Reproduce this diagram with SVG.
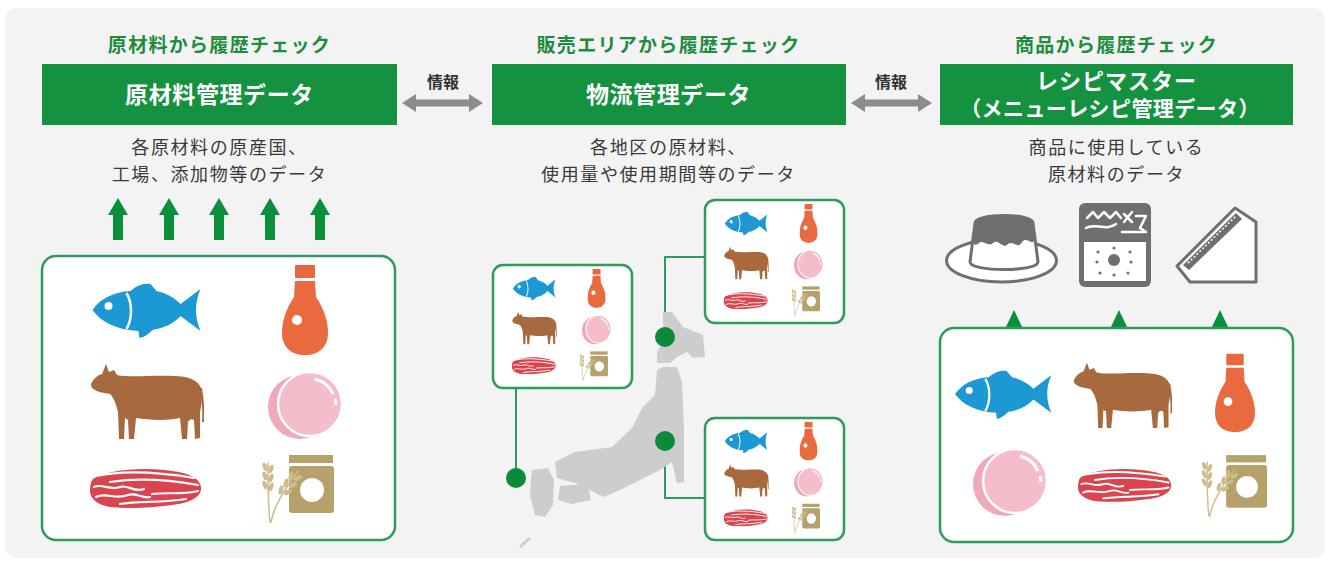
<svg xmlns="http://www.w3.org/2000/svg" xmlns:xlink="http://www.w3.org/1999/xlink" width="1330" height="563" viewBox="0 0 1330 563">
  <style>
    .hdr { font-family: 'Noto Sans CJK JP', 'Noto Sans CJK SC', sans-serif; font-size: 19px; font-weight: 700; fill: #1e8c3e; text-anchor: middle; letter-spacing: 1.3px; }
    .bar { fill: #14923f; }
    .bartxt { font-family: 'Noto Sans CJK JP', 'Noto Sans CJK SC', sans-serif; font-weight: 700; fill: #ffffff; text-anchor: middle; }
    .desc { font-family: 'Noto Sans CJK JP', 'Noto Sans CJK SC', sans-serif; font-size: 18px; fill: #3a3a3a; text-anchor: middle; letter-spacing: 1.6px; }
    .info { font-family: 'Noto Sans CJK JP', 'Noto Sans CJK SC', sans-serif; font-size: 16px; font-weight: 700; fill: #333333; text-anchor: middle; }
    .box { fill: #ffffff; stroke: #2f9a5e; stroke-width: 2.5; }
    .link { fill: none; stroke: #2f9a5e; stroke-width: 2; }
    .dot { fill: #0b8a3a; }
    .land { fill: #cdcdcd; }
    .garrow { fill: #0b8f3b; }
    .darrow { fill: #8c8c8c; }
    .prod { fill: #ffffff; stroke: #6f6f6f; stroke-width: 3; stroke-linejoin: round; }
    .prodfill { fill: #6f6f6f; }
  </style>
  <defs>
    <!-- ingredient icons -->
    <symbol id="fish" viewBox="0 0 110 55">
      <path fill="#1c98d5" d="M0,27 C8,15 22,9 38,8 C44,3 50,0 58,1 L64,8 C74,10 82,15 88,21 L108,6 C102,20 102,34 108,48 L88,33 C82,40 72,45 60,47 C56,51 52,54 47,55 L46,48 C26,47 9,40 0,27 Z"/>
      <path d="M34,10 C40,20 40,36 34,46" fill="none" stroke="#ffffff" stroke-width="2.5"/>
      <circle cx="16" cy="23" r="4" fill="#ffffff"/>
    </symbol>
    <symbol id="bottle" viewBox="0 0 46 90">
      <rect x="13" y="0" width="20" height="13" rx="1" fill="#e8673f"/>
      <path fill="#ea6a40" d="M13,16 L33,16 L34,32 C42,44 46,56 46,68 C46,82 37,90 23,90 C9,90 0,82 0,68 C0,56 4,44 12,32 Z"/>
      <circle cx="15" cy="55" r="5" fill="#ffffff"/>
    </symbol>
    <symbol id="cow" viewBox="0 0 114 82">
      <path fill="#a7693d" d="M2,22 C4,18 8,15 12,14 L16,4 L19,12 L24,10 L27,15 C40,18 62,15 84,16 C98,16 108,20 111,28 C113,34 112,44 110,52 L110,78 L105,79 L104,60 C101,58 99,60 98,62 L97,79 L92,79 L90,58 C76,61 58,60 46,58 L44,79 L39,79 L38,60 L35,58 L34,79 L29,79 L28,52 C26,44 24,38 20,34 C14,33 8,32 5,30 C1,28 0,25 2,22 Z"/>
      <path d="M111,28 C113,40 114,50 113,62" fill="none" stroke="#a7693d" stroke-width="2"/>
    </symbol>
    <symbol id="ham" viewBox="0 0 76 70">
      <circle cx="33" cy="37" r="32" fill="#f0a9bb"/>
      <circle cx="43" cy="34" r="32" fill="#f5bccb" stroke="#ffffff" stroke-width="2.5"/>
      <path d="M48,9 A26,26 0 0 1 66,24" fill="none" stroke="#ffffff" stroke-width="3"/>
      <path d="M68,29 A26,26 0 0 1 69,35" fill="none" stroke="#ffffff" stroke-width="3"/>
    </symbol>
    <symbol id="meat" viewBox="0 0 112 42">
      <path fill="#d9444e" d="M3,12 C15,4 45,0 75,3 C95,5 110,10 111,20 C112,30 100,36 82,38 C60,41 40,42 20,40 C8,38 0,32 0,24 C0,18 1,14 3,12 Z"/>
      <g fill="none" stroke="#ffffff" stroke-width="2.2" stroke-linecap="round">
        <path d="M6,9 C30,4 62,4 104,11"/>
        <path d="M20,15 C45,11 75,12 108,18"/>
        <path d="M4,20 C12,16 20,24 30,20 C38,17 44,26 54,22"/>
        <path d="M6,30 C16,25 26,33 38,28 C46,25 52,32 60,30"/>
        <path d="M62,27 C76,25 92,28 108,24"/>
        <path d="M30,37 C50,34 72,36 96,32"/>
      </g>
    </symbol>
    <symbol id="grain" viewBox="0 0 76 68">
      <rect x="31" y="0" width="44" height="8" fill="#b7a16a"/>
      <rect x="31" y="11" width="45" height="47" rx="3" fill="#b7a16a"/>
      <circle cx="54" cy="35" r="12" fill="#ffffff"/>
      <g fill="none" stroke="#cdbd8c" stroke-width="1.6" stroke-linecap="round">
        <path d="M12,67 C10,50 10,36 10,8"/>
        <path d="M13,67 C16,52 24,38 40,16"/>
      </g>
      <g fill="#cdbd8c">
        <ellipse cx="7" cy="12" rx="2.2" ry="4.5" transform="rotate(-20 7 12)"/>
        <ellipse cx="13" cy="14" rx="2.2" ry="4.5" transform="rotate(20 13 14)"/>
        <ellipse cx="7" cy="21" rx="2.2" ry="4.5" transform="rotate(-20 7 21)"/>
        <ellipse cx="13" cy="23" rx="2.2" ry="4.5" transform="rotate(20 13 23)"/>
        <ellipse cx="7" cy="30" rx="2.2" ry="4.5" transform="rotate(-20 7 30)"/>
        <ellipse cx="13" cy="32" rx="2.2" ry="4.5" transform="rotate(20 13 32)"/>
        <ellipse cx="33" cy="21" rx="2.2" ry="4.5" transform="rotate(15 33 21)"/>
        <ellipse cx="40" cy="23" rx="2.2" ry="4.5" transform="rotate(60 40 23)"/>
        <ellipse cx="28" cy="28" rx="2.2" ry="4.5" transform="rotate(15 28 28)"/>
        <ellipse cx="35" cy="30" rx="2.2" ry="4.5" transform="rotate(60 35 30)"/>
        <ellipse cx="23" cy="35" rx="2.2" ry="4.5" transform="rotate(15 23 35)"/>
        <ellipse cx="30" cy="37" rx="2.2" ry="4.5" transform="rotate(60 30 37)"/>
      </g>
    </symbol>
    <!-- six-ingredient panel content, laid out in the big left box frame -->
    <symbol id="set6" viewBox="42 256 353 284" preserveAspectRatio="none">
      <use href="#fish" x="92" y="283" width="111" height="55"/>
      <use href="#bottle" x="282" y="265" width="46" height="90"/>
      <use href="#cow" x="90" y="360" width="114" height="82"/>
      <use href="#ham" x="267" y="370" width="76" height="70"/>
      <use href="#meat" x="90" y="467" width="112" height="42"/>
      <use href="#grain" x="258" y="455" width="76" height="68"/>
    </symbol>
    <path id="uparrow" d="M0,198 L10,215 L5,215 L5,240 L-5,240 L-5,215 L-10,215 Z"/>
    <path id="biarrow" d="M0,103 L14,94 L14,99.5 L67,99.5 L67,94 L81,103 L67,112 L67,106.5 L14,106.5 L14,112 Z"/>
    <path id="tri" d="M0,310 L9,329 L-9,329 Z"/>
  </defs>

  <!-- backdrop -->
  <rect x="0" y="0" width="1330" height="563" fill="#ffffff"/>
  <rect x="5" y="8" width="1320" height="550" rx="12" fill="#f3f3f3"/>

  <!-- connectors -->
  <g id="connectors">
    <use href="#biarrow" x="402" class="darrow"/>
    <use href="#biarrow" x="851" class="darrow"/>
    <text class="info" x="443" y="88">情報</text>
    <text class="info" x="891" y="88">情報</text>
    <g class="garrow">
      <use href="#uparrow" x="118"/>
      <use href="#uparrow" x="169"/>
      <use href="#uparrow" x="219"/>
      <use href="#uparrow" x="270"/>
      <use href="#uparrow" x="320"/>
      <use href="#tri" x="1014"/>
      <use href="#tri" x="1119"/>
      <use href="#tri" x="1220"/>
    </g>
    <path class="link" d="M516,388 L516,478"/>
    <path class="link" d="M705,257 L665,257 L665,337"/>
    <path class="link" d="M665,441 L665,498 L705,498"/>
  </g>

  <!-- column 1: raw material data -->
  <g id="raw-material">
    <text class="hdr" x="219.5" y="52">原材料から履歴チェック</text>
    <rect class="bar" x="42" y="64" width="355" height="61"/>
    <text class="bartxt" x="219.5" y="103" font-size="23" letter-spacing="0.6">原材料管理データ</text>
    <text class="desc" x="219.5" y="154">各原材料の原産国、</text>
    <text class="desc" x="219.5" y="181">工場、添加物等のデータ</text>
    <rect class="box" x="42" y="256" width="353" height="284" rx="14"/>
    <use href="#set6" x="42" y="256" width="353" height="284"/>
  </g>

  <!-- column 2: distribution data -->
  <g id="distribution">
    <text class="hdr" x="668.5" y="52">販売エリアから履歴チェック</text>
    <rect class="bar" x="492" y="64" width="354" height="61"/>
    <text class="bartxt" x="668.5" y="103" font-size="23" letter-spacing="0.6">物流管理データ</text>
    <text class="desc" x="668.5" y="154">各地区の原材料、</text>
    <text class="desc" x="668.5" y="181">使用量や使用期間等のデータ</text>
  </g>

  <!-- map of Japan -->
  <g id="map">
    <polygon class="land" points="663,312 672,312 683,327 703,335 705,357 693,358 687,352 677,357 670,363 657,363 657,352 663,342"/>
    <polygon class="land" points="657,370 663,367 677,367 682,382 684,430 684,482 677,483 672,462 660,470 640,480 620,490 603,497 590,490 575,483 557,478 555,462 575,452 612,447 632,428 642,408 655,395"/>
    <polygon class="land" points="560,486 588,484 591,500 572,504 558,500"/>
    <polygon class="land" points="532,470 548,468 554,480 553,505 545,517 535,515 530,495 531,480"/>
    <path d="M520,547 L530,538" stroke="#cdcdcd" stroke-width="3"/>
  </g>

  <g id="area-west">
    <rect class="box" x="493" y="265" width="139" height="123" rx="10"/>
    <use href="#set6" x="493" y="265" width="139" height="123"/>
    <circle class="dot" cx="516" cy="478" r="10"/>
  </g>
  <g id="area-north">
    <rect class="box" x="705" y="200" width="139" height="123" rx="10"/>
    <use href="#set6" x="705" y="200" width="139" height="123"/>
    <circle class="dot" cx="665" cy="337" r="10"/>
  </g>
  <g id="area-east">
    <rect class="box" x="705" y="418" width="139" height="122" rx="10"/>
    <use href="#set6" x="705" y="418" width="139" height="122"/>
    <circle class="dot" cx="665" cy="441" r="10"/>
  </g>

  <!-- column 3: recipe master -->
  <g id="recipe-master">
    <text class="hdr" x="1116.5" y="52">商品から履歴チェック</text>
    <rect class="bar" x="940" y="64" width="353" height="61"/>
    <text class="bartxt" x="1116.5" y="89" font-size="22" letter-spacing="1">レシピマスター</text>
    <text class="bartxt" x="1110" y="116" font-size="21" letter-spacing="0.4">（メニューレシピ管理データ）</text>
    <text class="desc" x="1116.5" y="154">商品に使用している</text>
    <text class="desc" x="1116.5" y="181">原材料のデータ</text>
  </g>

  <!-- products -->
  <g id="pudding">
    <ellipse class="prod" cx="1001.5" cy="260.5" rx="55" ry="21.5"/>
    <path class="prod" d="M975,223 C975,213 1033,213 1033,223 L1038,262 C1038,272 970,272 970,262 Z"/>
    <path class="prodfill" d="M975,223 C975,213 1033,213 1033,223 L1035,240 C1031,246 1027,236 1022,242 C1018,250 1013,240 1008,244 C1003,250 998,238 993,243 C988,248 983,238 978,244 C975,246 973,244 972,240 Z"/>
  </g>
  <g id="bento">
    <rect class="prodfill" x="1079" y="203" width="72" height="84" rx="6"/>
    <rect x="1084" y="242" width="62" height="39" fill="#ffffff"/>
    <g fill="none" stroke="#ffffff" stroke-width="2.5" stroke-linecap="round" stroke-linejoin="round">
      <path d="M1087,218 L1093,212 L1098,218 L1104,212 L1110,218 L1116,212 L1121,218"/>
      <path d="M1086,228 C1095,222 1105,232 1116,224"/>
      <path d="M1124,214 L1132,222 M1132,212 L1124,222 M1136,216 L1146,216 L1140,228 L1146,232"/>
      <path d="M1122,232 L1144,232"/>
    </g>
    <circle class="prodfill" cx="1114" cy="260" r="6"/>
    <g class="prodfill">
      <circle cx="1098" cy="252" r="1.6"/>
      <circle cx="1114" cy="248" r="1.6"/>
      <circle cx="1130" cy="252" r="1.6"/>
      <circle cx="1097" cy="262" r="1.6"/>
      <circle cx="1131" cy="262" r="1.6"/>
      <circle cx="1100" cy="273" r="1.6"/>
      <circle cx="1114" cy="275" r="1.6"/>
      <circle cx="1128" cy="273" r="1.6"/>
    </g>
  </g>
  <g id="sandwich">
    <path class="prod" d="M1177,266 L1235,208 L1256,222 L1256,282 L1190,282 Z"/>
    <path class="prodfill" d="M1183,265 L1236,213 L1242,219 L1189,270 Z"/>
    <path d="M1188,263 L1236,216" stroke="#ffffff" stroke-width="1.5" stroke-dasharray="2 2"/>
  </g>

  <g id="products-box">
    <rect class="box" x="940" y="328" width="353" height="214" rx="14"/>
    <use href="#fish" x="955" y="370" width="98" height="49"/>
    <use href="#cow" x="1073" y="359" width="99" height="72"/>
    <use href="#bottle" x="1215" y="353" width="40" height="80"/>
    <use href="#ham" x="970" y="447" width="80" height="70"/>
    <use href="#meat" x="1078" y="467" width="94" height="36"/>
    <use href="#grain" x="1198" y="455" width="69" height="62"/>
  </g>
</svg>
